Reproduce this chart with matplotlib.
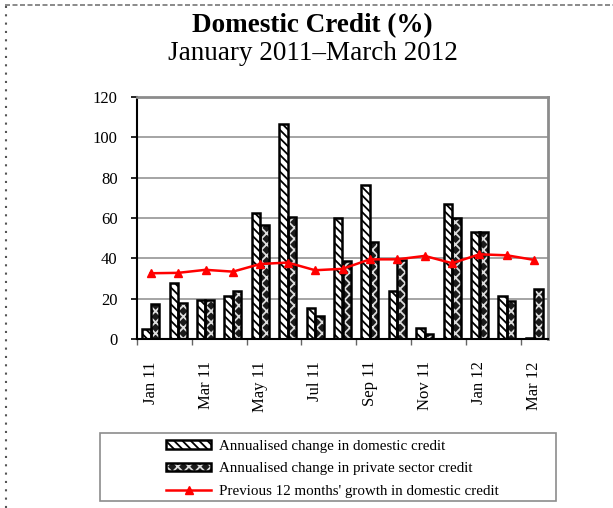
import numpy as np
import matplotlib
matplotlib.use("Agg")
import matplotlib.pyplot as plt
from matplotlib.patches import Patch, Rectangle
from matplotlib.lines import Line2D
from matplotlib.legend_handler import HandlerTuple

plt.rcParams["font.family"] = ["Liberation Serif", "DejaVu Serif"]
plt.rcParams["hatch.linewidth"] = 1.3

months = ["Jan 11", "Feb 11", "Mar 11", "Apr 11", "May 11", "Jun 11", "Jul 11",
          "Aug 11", "Sep 11", "Oct 11", "Nov 11", "Dec 11", "Jan 12", "Feb 12", "Mar 12"]
domestic = [5.1, 27.7, 19.4, 21.1, 62.6, 106.8, 15.2, 59.8, 76.3, 23.7, 5.3, 67.0, 53.0, 21.3, 0.3]
private = [17.6, 17.8, 19.4, 23.7, 56.7, 60.6, 11.4, 38.7, 48.1, 39.2, 2.5, 60.1, 53.0, 18.6, 24.9]
growth12 = [32.6, 32.8, 34.3, 33.4, 37.2, 37.9, 34.1, 34.8, 39.5, 39.5, 41.2, 37.6, 42.0, 41.5, 39.2]

W, H = 613, 508
fig = plt.figure(figsize=(W / 100, H / 100), dpi=100)
ax = fig.add_axes([137 / W, 1 - 339 / H, (548 - 137) / W, (339 - 97) / H])

x = np.arange(len(months))
bw = 0.31

# domestic credit: white with diagonal stripes
ax.bar(x - bw / 2, domestic, bw, color="white", edgecolor="black", hatch="\\\\\\\\",
       linewidth=0, zorder=2)
ax.bar(x - bw / 2, domestic, bw, color="none", edgecolor="black", linewidth=1.8, zorder=3)
# private sector credit: dark with white crosses
ax.bar(x + bw / 2, private, bw, color="#1a1a1a", edgecolor="#dddddd", hatch="xxx",
       linewidth=0, zorder=2)
ax.bar(x + bw / 2, private, bw, color="none", edgecolor="black", linewidth=1.8, zorder=3)

ax.plot(x, growth12, color="#ff0000", lw=1.8, marker="^", ms=6, zorder=4)

ax.set_xlim(-0.5, len(months) - 0.5)
ax.set_ylim(0, 120)
ax.set_yticks(range(0, 121, 20))
ax.yaxis.grid(True, color="#8c8c8c", lw=1.1)
ax.set_axisbelow(True)

ax.set_xticks(np.arange(-0.5, len(months) - 0.5, 2))
ax.set_xticklabels([])
ax.set_xticks(x[::2], minor=True)
ax.set_xticklabels(months[::2], minor=True, rotation=90, fontsize=12)
ax.tick_params(axis="x", which="major", length=4, width=1, color="#666666")
ax.tick_params(axis="x", which="minor", length=0, pad=16)
ax.tick_params(axis="y", length=4, width=1.2, pad=10, labelsize=12)

for s in ["top", "right"]:
    ax.spines[s].set_color("#8c8c8c")
    ax.spines[s].set_linewidth(2)
ax.spines["left"].set_linewidth(1.5)
ax.spines["bottom"].set_linewidth(1.5)

fig.text(0.51, 1 - 32 / H, "Domestic Credit (%)", ha="center", va="baseline",
         fontsize=19.5, fontweight="bold")
fig.text(0.51, 1 - 60 / H, "January 2011\u2013March 2012", ha="center", va="baseline",
         fontsize=19.5)

# legend
h_dom = (Patch(facecolor="white", edgecolor="black", hatch="\\\\\\\\", linewidth=0),
         Patch(facecolor="none", edgecolor="black", linewidth=1.8))
h_priv = (Patch(facecolor="#1a1a1a", edgecolor="#dddddd", hatch="xxx", linewidth=0),
          Patch(facecolor="none", edgecolor="black", linewidth=1.8))
h_line = Line2D([], [], color="#ff0000", lw=1.8, marker="^", ms=6)
fig.legend([h_dom, h_priv, h_line],
           ["Annualised change in domestic credit",
            "Annualised change in private sector credit",
            "Previous 12 months' growth in domestic credit"],
           handler_map={tuple: HandlerTuple(ndivide=1)},
           loc="upper left", bbox_to_anchor=(166 / W, 1 - 440 / H),
           frameon=False, fontsize=10.8, borderpad=0, borderaxespad=0,
           handlelength=3.0, handleheight=0.5, handletextpad=0.5, labelspacing=0.62)
fig.patches.append(Rectangle((100 / W, 1 - 501 / H), 456 / W, 68 / H,
                             transform=fig.transFigure, fill=False,
                             edgecolor="#8c8c8c", lw=1.2))

# dashed page frame
fig.add_artist(Line2D([5 / W, 1], [1 - 5 / H, 1 - 5 / H], transform=fig.transFigure,
                      color="#777777", lw=1.2, ls=(0, (3, 1.5))))
fig.add_artist(Line2D([6 / W, 6 / W], [0, 1 - 5 / H], transform=fig.transFigure,
                      color="#555555", lw=1.5, ls=(0, (1, 3))))

fig.savefig("out.png", dpi=100)
